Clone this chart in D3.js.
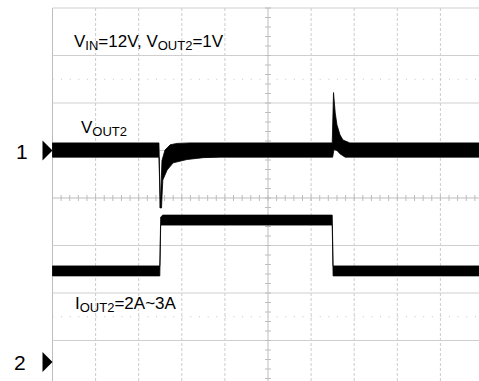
<!DOCTYPE html>
<html>
<head>
<meta charset="utf-8">
<script src="https://cdn.jsdelivr.net/npm/d3@7"></script>
<style>
  html, body { margin: 0; padding: 0; background: #fff; }
  svg { display: block; font-family: "Liberation Sans", Arial, sans-serif; }
</style>
</head>
<body>
<svg id="scope" width="479" height="381"></svg>
<script>
// Screen is 10 horizontal x 8 vertical divisions; all trace values are in divisions.
const xDivisions = d3.range(0, 11);          // time graticule
const yDivisions = d3.range(-4, 5);          // vertical graticule
const yDottedDivs = [2.5, -2.5];             // dotted reference rows

// Channel ground markers (divisions from screen centre)
const channelIds = ["1", "2"];
const channelLevels = [1.0, -3.45];

// CH1: V_OUT2 ripple envelope [time div, level div]
const vout2Upper = [
  [0, 1.16], [2.47, 1.16], [2.50, -0.21], [2.54, 0.79], [2.61, 1.01], [2.73, 1.12],
  [2.89, 1.15], [3.19, 1.16], [6.49, 1.16], [6.52, 2.22], [6.56, 1.79], [6.60, 1.54],
  [6.67, 1.33], [6.74, 1.22], [6.90, 1.16], [10, 1.16]
];
const vout2Lower = [
  [0, 0.86], [2.47, 0.86], [2.50, -0.21], [2.53, -0.21], [2.54, 0.02], [2.56, 0.38],
  [2.66, 0.59], [2.80, 0.74], [3.12, 0.81], [3.50, 0.85], [3.90, 0.86], [6.50, 0.86],
  [6.53, 1.02], [6.60, 1.00], [6.67, 0.93], [6.79, 0.86], [10, 0.86]
];

// CH2: I_OUT2 load step envelope (2 A -> 3 A -> 2 A)
const iout2Upper = [
  [0, -1.43], [2.49, -1.43], [2.51, -0.40], [2.56, -0.36], [6.49, -0.36], [6.51, -1.43], [10, -1.43]
];
const iout2Lower = [
  [0, -1.64], [2.49, -1.64], [2.51, -0.57], [6.49, -0.57], [6.51, -1.64], [10, -1.64]
];

const svg = d3.select("#scope");
const x = d3.scaleLinear().domain([0, 10]).range([52.5, 483.5]);
const y = d3.scaleLinear().domain([-4, 4]).range([388, 8]);

const grid = svg.append("g");

// vertical graticule: solid left edge and centre, dashed elsewhere
grid.selectAll("line.v").data(xDivisions).join("line")
  .attr("x1", d => x(d)).attr("x2", d => x(d))
  .attr("y1", y(4)).attr("y2", y(-4))
  .attr("stroke", d => (d === 0 || d === 5) ? "#bdbdbd" : "#cccccc")
  .attr("stroke-width", 1)
  .attr("stroke-dasharray", d => (d === 0 || d === 5) ? null : "3,2");

// horizontal graticule
grid.selectAll("line.h").data(yDivisions).join("line")
  .attr("x1", x(0)).attr("x2", x(10))
  .attr("y1", d => y(d)).attr("y2", d => y(d))
  .attr("stroke", d => d === 0 ? "#bdbdbd" : "#cfcfcf")
  .attr("stroke-width", 1);

// dotted rows
grid.selectAll("line.dot").data(yDottedDivs).join("line")
  .attr("x1", x(0)).attr("x2", x(10))
  .attr("y1", d => y(d)).attr("y2", d => y(d))
  .attr("stroke", "#c4c4c4")
  .attr("stroke-width", 1)
  .attr("stroke-dasharray", "1,7.62");

// minor ticks on the centre cross
const xMinor = d3.range(0, 50.01).map(i => i / 5);
const yMinor = d3.range(-20, 20.01).map(i => i / 5);
grid.selectAll("line.xt").data(xMinor).join("line")
  .attr("x1", d => x(d)).attr("x2", d => x(d))
  .attr("y1", y(0) - 3).attr("y2", y(0) + 3)
  .attr("stroke", "#bdbdbd");
grid.selectAll("line.yt").data(yMinor).join("line")
  .attr("x1", x(5) - 3).attr("x2", x(5) + 3)
  .attr("y1", d => y(d)).attr("y2", d => y(d))
  .attr("stroke", "#bdbdbd");

// envelope traces
const line = d3.line().x(d => x(d[0])).y(d => y(d[1]));
function band(upper, lower) {
  return line(upper.concat(lower.slice().reverse())) + "Z";
}
svg.append("path")
  .attr("d", band(vout2Upper, vout2Lower))
  .attr("fill", "#000").attr("stroke", "#000").attr("stroke-width", 0.8);
svg.append("path")
  .attr("d", band(iout2Upper, iout2Lower))
  .attr("fill", "#000").attr("stroke", "#000").attr("stroke-width", 0.8);

// channel markers
svg.selectAll("path.marker").data(channelLevels).join("path")
  .attr("d", d => `M${x(0) - 10},${y(d) - 10}L${x(0)},${y(d)}L${x(0) - 10},${y(d) + 10}Z`)
  .attr("fill", "#000");
svg.selectAll("text.ch").data(channelIds).join("text")
  .attr("x", (d, i) => i === 0 ? 16 : 14)
  .attr("y", (d, i) => y(channelLevels[i]) + 8)
  .attr("font-size", 21)
  .attr("fill", "#000")
  .text(d => d);

// annotations with subscripts
function label(px, py, parts) {
  const t = svg.append("text").attr("x", px).attr("y", py)
    .attr("font-size", 17).attr("fill", "#000");
  let shifted = false;
  parts.forEach(([s, sub]) => {
    const ts = t.append("tspan").text(s);
    if (sub && !shifted) { ts.attr("font-size", 13).attr("dy", 2.5); shifted = true; }
    else if (!sub && shifted) { ts.attr("dy", -2.5); shifted = false; }
    else if (sub) ts.attr("font-size", 13);
  });
}
label(74, 47, [["V"], ["IN", true], ["=12V, V"], ["OUT2", true], ["=1V"]]);
label(81, 133, [["V"], ["OUT2", true]]);
label(75, 309, [["I"], ["OUT2", true], ["=2A~3A"]]);
</script>
</body>
</html>
